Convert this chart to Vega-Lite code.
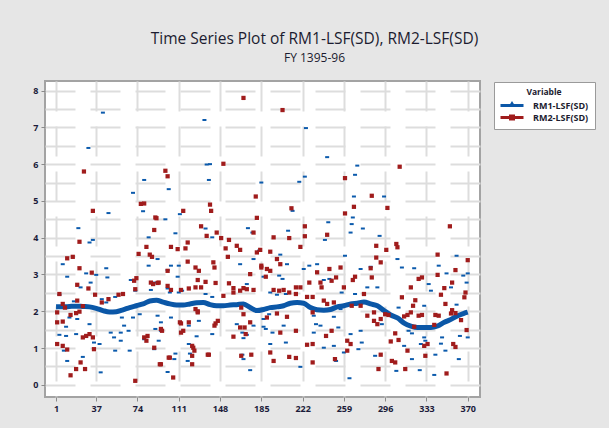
{
  "$schema": "https://vega.github.io/schema/vega-lite/v6.json",
  "autosize": {"type": "none"},
  "width": 435,
  "height": 316,
  "padding": {"left": 45, "top": 81, "right": 129, "bottom": 31},
  "background": "#e6e6e6",
  "title": {
    "text": "Time Series Plot of RM1-LSF(SD), RM2-LSF(SD)",
    "subtitle": "FY 1395-96",
    "anchor": "middle",
    "dx": 52,
    "offset": 17,
    "font": "Open Sans",
    "fontSize": 15.5,
    "fontWeight": "normal",
    "color": "#1c1c30",
    "subtitleFont": "Open Sans",
    "subtitleFontSize": 12,
    "subtitleColor": "#1c1c30",
    "subtitlePadding": 6
  },
  "config": {
    "view": {"fill": "white", "stroke": "#a3a3a3", "strokeWidth": 2},
    "axis": {
      "grid": true,
      "gridColor": "#dddddd",
      "gridWidth": 2,
      "gridDash": [30, 15],
      "domain": false,
      "tickColor": "#8a8a8a",
      "tickSize": 4,
      "labelFont": "Open Sans",
      "labelFontSize": 9,
      "labelFontWeight": "bold",
      "labelColor": "#1c1c3a",
      "labelPadding": 3,
      "title": null
    },
    "legend": {
      "orient": "none",
      "legendX": 449,
      "legendY": 1,
      "fillColor": "white",
      "strokeColor": "#9a9a9a",
      "padding": 6,
      "titleFont": "Open Sans",
      "titleFontSize": 8.5,
      "titleFontWeight": "bold",
      "titleColor": "#1c1c30",
      "titleAnchor": "middle",
      "titlePadding": 4,
      "labelFont": "Open Sans",
      "labelFontSize": 9,
      "labelFontWeight": "bold",
      "labelColor": "#1c1c30",
      "symbolSize": 100,
      "symbolOffset": 7,
      "symbolOpacity": 1,
      "labelOffset": 16,
      "rowPadding": 2,
      "symbolStrokeWidth": 0
    }
  },
  "datasets": {
    "legend": [{"s": "RM1-LSF(SD)"}, {"s": "RM2-LSF(SD)"}],
    "rm1line": [
      {"t": 1, "v": 2.12}, {"t": 7, "v": 2.12}, {"t": 13, "v": 2.13}, {"t": 19, "v": 2.14}, {"t": 25, "v": 2.13},
      {"t": 31, "v": 2.12}, {"t": 37, "v": 2.08}, {"t": 43, "v": 2.02}, {"t": 49, "v": 1.98}, {"t": 55, "v": 1.99},
      {"t": 61, "v": 2.04}, {"t": 67, "v": 2.1}, {"t": 73, "v": 2.15}, {"t": 79, "v": 2.2}, {"t": 85, "v": 2.28},
      {"t": 91, "v": 2.3}, {"t": 97, "v": 2.25}, {"t": 103, "v": 2.2}, {"t": 109, "v": 2.17}, {"t": 115, "v": 2.17},
      {"t": 121, "v": 2.2}, {"t": 127, "v": 2.23}, {"t": 133, "v": 2.24}, {"t": 139, "v": 2.18}, {"t": 145, "v": 2.15},
      {"t": 151, "v": 2.15}, {"t": 157, "v": 2.17}, {"t": 163, "v": 2.18}, {"t": 169, "v": 2.2}, {"t": 175, "v": 2.1},
      {"t": 181, "v": 2.02}, {"t": 187, "v": 2.05}, {"t": 193, "v": 2.1}, {"t": 199, "v": 2.12}, {"t": 205, "v": 2.15},
      {"t": 211, "v": 2.22}, {"t": 217, "v": 2.24}, {"t": 223, "v": 2.22}, {"t": 229, "v": 2.1}, {"t": 235, "v": 2.04},
      {"t": 241, "v": 2.03}, {"t": 247, "v": 2.05}, {"t": 253, "v": 2.12}, {"t": 259, "v": 2.15}, {"t": 265, "v": 2.2},
      {"t": 271, "v": 2.22}, {"t": 277, "v": 2.25}, {"t": 283, "v": 2.2}, {"t": 289, "v": 2.15}, {"t": 295, "v": 2.02},
      {"t": 301, "v": 1.9}, {"t": 307, "v": 1.82}, {"t": 313, "v": 1.68}, {"t": 319, "v": 1.6}, {"t": 325, "v": 1.56},
      {"t": 331, "v": 1.56}, {"t": 337, "v": 1.56}, {"t": 343, "v": 1.6}, {"t": 349, "v": 1.7}, {"t": 355, "v": 1.78},
      {"t": 361, "v": 1.88}, {"t": 367, "v": 1.95}, {"t": 370, "v": 1.98}
    ],
    "rm1": [
      {"t": 43, "v": 7.4}, {"t": 30, "v": 6.44}, {"t": 134, "v": 7.2}, {"t": 80, "v": 5.57}, {"t": 70, "v": 5.22},
      {"t": 102, "v": 5.32}, {"t": 48, "v": 4.67}, {"t": 79, "v": 4.72}, {"t": 99, "v": 4.5}, {"t": 112, "v": 4.64},
      {"t": 136, "v": 5.99}, {"t": 139, "v": 6.0}, {"t": 138, "v": 5.57}, {"t": 185, "v": 5.5}, {"t": 21, "v": 4.26},
      {"t": 108, "v": 4.12}, {"t": 135, "v": 4.25}, {"t": 141, "v": 4.01}, {"t": 173, "v": 4.26}, {"t": 84, "v": 4.01},
      {"t": 34, "v": 3.94}, {"t": 31, "v": 3.87}, {"t": 7, "v": 3.28}, {"t": 84, "v": 3.24}, {"t": 46, "v": 3.17},
      {"t": 11, "v": 2.94}, {"t": 28, "v": 3.03}, {"t": 37, "v": 2.99}, {"t": 47, "v": 2.92}, {"t": 68, "v": 2.85},
      {"t": 23, "v": 2.65}, {"t": 32, "v": 2.78}, {"t": 86, "v": 2.58}, {"t": 4, "v": 2.45}, {"t": 72, "v": 2.56},
      {"t": 42, "v": 2.33}, {"t": 46, "v": 2.24}, {"t": 54, "v": 2.39}, {"t": 17, "v": 2.27}, {"t": 76, "v": 2.2},
      {"t": 76, "v": 1.92}, {"t": 13, "v": 1.83}, {"t": 20, "v": 1.79}, {"t": 10, "v": 1.58}, {"t": 31, "v": 1.65},
      {"t": 60, "v": 1.83}, {"t": 62, "v": 1.61}, {"t": 70, "v": 1.83}, {"t": 50, "v": 1.42}, {"t": 59, "v": 1.42},
      {"t": 66, "v": 1.47}, {"t": 4, "v": 1.36}, {"t": 10, "v": 1.33}, {"t": 19, "v": 1.38}, {"t": 35, "v": 1.15},
      {"t": 40, "v": 1.11}, {"t": 53, "v": 1.29}, {"t": 59, "v": 1.2}, {"t": 8, "v": 0.93}, {"t": 54, "v": 0.93},
      {"t": 67, "v": 0.93}, {"t": 11, "v": 0.65}, {"t": 25, "v": 0.76}, {"t": 41, "v": 0.34}, {"t": 80, "v": 1.24},
      {"t": 225, "v": 6.98}, {"t": 244, "v": 6.19}, {"t": 271, "v": 5.96}, {"t": 269, "v": 5.71}, {"t": 224, "v": 5.66},
      {"t": 219, "v": 5.52}, {"t": 268, "v": 5.12}, {"t": 295, "v": 5.12}, {"t": 213, "v": 4.73}, {"t": 267, "v": 4.55},
      {"t": 245, "v": 4.42}, {"t": 266, "v": 4.37}, {"t": 276, "v": 4.25}, {"t": 209, "v": 4.19}, {"t": 265, "v": 4.14},
      {"t": 291, "v": 4.05}, {"t": 177, "v": 4.14}, {"t": 183, "v": 3.65}, {"t": 178, "v": 3.42}, {"t": 92, "v": 3.42},
      {"t": 104, "v": 3.24}, {"t": 101, "v": 3.12}, {"t": 111, "v": 3.24}, {"t": 166, "v": 3.28}, {"t": 187, "v": 2.94},
      {"t": 110, "v": 2.94}, {"t": 89, "v": 2.78}, {"t": 101, "v": 2.62}, {"t": 103, "v": 2.51}, {"t": 111, "v": 2.51},
      {"t": 114, "v": 2.56}, {"t": 135, "v": 2.47}, {"t": 141, "v": 2.39}, {"t": 172, "v": 2.74}, {"t": 92, "v": 1.88},
      {"t": 104, "v": 1.83}, {"t": 95, "v": 1.7}, {"t": 120, "v": 1.61}, {"t": 129, "v": 1.74}, {"t": 90, "v": 1.52},
      {"t": 95, "v": 1.47}, {"t": 141, "v": 1.38}, {"t": 163, "v": 1.65}, {"t": 178, "v": 1.61}, {"t": 187, "v": 1.58},
      {"t": 168, "v": 1.42}, {"t": 172, "v": 1.36}, {"t": 169, "v": 1.27}, {"t": 127, "v": 1.32}, {"t": 93, "v": 1.2},
      {"t": 89, "v": 0.97}, {"t": 120, "v": 1.11}, {"t": 121, "v": 0.85}, {"t": 108, "v": 0.85}, {"t": 107, "v": 0.7},
      {"t": 168, "v": 0.82}, {"t": 169, "v": 0.7}, {"t": 119, "v": 0.65}, {"t": 101, "v": 0.35}, {"t": 175, "v": 0.4},
      {"t": 242, "v": 3.94}, {"t": 260, "v": 3.51}, {"t": 202, "v": 3.54}, {"t": 208, "v": 3.28}, {"t": 228, "v": 3.24},
      {"t": 235, "v": 3.28}, {"t": 223, "v": 3.15}, {"t": 274, "v": 3.15}, {"t": 283, "v": 3.21}, {"t": 201, "v": 2.97},
      {"t": 204, "v": 2.88}, {"t": 241, "v": 2.85}, {"t": 246, "v": 2.88}, {"t": 257, "v": 2.51}, {"t": 280, "v": 2.65},
      {"t": 193, "v": 2.51}, {"t": 199, "v": 2.45}, {"t": 207, "v": 2.47}, {"t": 269, "v": 2.47}, {"t": 192, "v": 1.92},
      {"t": 187, "v": 1.79}, {"t": 189, "v": 1.52}, {"t": 195, "v": 1.42}, {"t": 193, "v": 1.11}, {"t": 205, "v": 1.61},
      {"t": 207, "v": 1.15}, {"t": 232, "v": 1.88}, {"t": 232, "v": 1.42}, {"t": 234, "v": 1.65}, {"t": 238, "v": 1.61},
      {"t": 250, "v": 1.85}, {"t": 254, "v": 1.56}, {"t": 241, "v": 1.01}, {"t": 250, "v": 1.06}, {"t": 252, "v": 0.65},
      {"t": 259, "v": 0.88}, {"t": 265, "v": 1.38}, {"t": 274, "v": 1.47}, {"t": 272, "v": 0.97}, {"t": 275, "v": 1.15},
      {"t": 220, "v": 0.49}, {"t": 264, "v": 0.18}, {"t": 256, "v": 2.06}, {"t": 307, "v": 3.42}, {"t": 360, "v": 3.51},
      {"t": 311, "v": 3.19}, {"t": 322, "v": 3.17}, {"t": 344, "v": 3.24}, {"t": 351, "v": 3.03}, {"t": 366, "v": 2.97},
      {"t": 370, "v": 3.03}, {"t": 335, "v": 2.74}, {"t": 337, "v": 2.56}, {"t": 289, "v": 2.65}, {"t": 355, "v": 2.65},
      {"t": 369, "v": 2.78}, {"t": 308, "v": 2.1}, {"t": 331, "v": 2.15}, {"t": 360, "v": 2.18}, {"t": 317, "v": 1.47},
      {"t": 320, "v": 1.4}, {"t": 331, "v": 1.29}, {"t": 332, "v": 1.2}, {"t": 346, "v": 1.12}, {"t": 347, "v": 1.29},
      {"t": 363, "v": 1.33}, {"t": 370, "v": 1.29}, {"t": 313, "v": 1.06}, {"t": 320, "v": 0.7}, {"t": 328, "v": 1.11},
      {"t": 341, "v": 0.82}, {"t": 350, "v": 0.93}, {"t": 362, "v": 0.7}, {"t": 327, "v": 0.4}, {"t": 340, "v": 0.27},
      {"t": 306, "v": 0.38}, {"t": 287, "v": 0.79}, {"t": 293, "v": 1.65}
    ],
    "rm2": [
      {"t": 26, "v": 5.8}, {"t": 34, "v": 4.73}, {"t": 22, "v": 3.89}, {"t": 11, "v": 3.44}, {"t": 16, "v": 3.48},
      {"t": 22, "v": 3.17}, {"t": 33, "v": 3.05}, {"t": 20, "v": 2.72}, {"t": 30, "v": 2.62}, {"t": 4, "v": 2.47},
      {"t": 36, "v": 2.45}, {"t": 20, "v": 2.29}, {"t": 7, "v": 2.2}, {"t": 9, "v": 2.1}, {"t": 25, "v": 2.14},
      {"t": 2, "v": 1.97}, {"t": 14, "v": 1.9}, {"t": 19, "v": 1.95}, {"t": 22, "v": 1.99}, {"t": 2, "v": 1.7},
      {"t": 7, "v": 1.72}, {"t": 28, "v": 1.33}, {"t": 31, "v": 1.38}, {"t": 2, "v": 1.11}, {"t": 7, "v": 1.06},
      {"t": 11, "v": 0.96}, {"t": 35, "v": 0.97}, {"t": 23, "v": 0.61}, {"t": 19, "v": 0.43}, {"t": 27, "v": 0.43},
      {"t": 14, "v": 0.26}, {"t": 72, "v": 0.11}, {"t": 77, "v": 4.92}, {"t": 80, "v": 4.93}, {"t": 90, "v": 4.55},
      {"t": 89, "v": 4.21}, {"t": 82, "v": 3.75}, {"t": 75, "v": 3.56}, {"t": 85, "v": 3.54}, {"t": 87, "v": 3.48},
      {"t": 73, "v": 2.9}, {"t": 71, "v": 2.83}, {"t": 86, "v": 2.78}, {"t": 57, "v": 2.45}, {"t": 61, "v": 2.47},
      {"t": 83, "v": 1.33}, {"t": 80, "v": 1.29}, {"t": 89, "v": 1.01}, {"t": 42, "v": 2.24}, {"t": 48, "v": 2.33},
      {"t": 72, "v": 2.6}, {"t": 93, "v": 2.78}, {"t": 88, "v": 2.74}, {"t": 25, "v": 1.29}, {"t": 34, "v": 1.29},
      {"t": 82, "v": 1.2}, {"t": 96, "v": 1.47}, {"t": 103, "v": 0.74}, {"t": 94, "v": 0.56}, {"t": 112, "v": 1.7},
      {"t": 115, "v": 1.47}, {"t": 124, "v": 1.01}, {"t": 123, "v": 0.79}, {"t": 137, "v": 0.82}, {"t": 146, "v": 1.74},
      {"t": 128, "v": 2.0}, {"t": 166, "v": 1.56}, {"t": 170, "v": 1.56}, {"t": 175, "v": 1.7}, {"t": 167, "v": 0.79},
      {"t": 160, "v": 2.51}, {"t": 166, "v": 2.56}, {"t": 185, "v": 3.24}, {"t": 193, "v": 3.1},
      {"t": 169, "v": 7.8}, {"t": 99, "v": 5.82}, {"t": 101, "v": 5.67}, {"t": 151, "v": 6.01}, {"t": 115, "v": 4.73},
      {"t": 139, "v": 4.9}, {"t": 140, "v": 4.73}, {"t": 180, "v": 5.12}, {"t": 181, "v": 4.54}, {"t": 91, "v": 4.53},
      {"t": 131, "v": 4.31}, {"t": 136, "v": 4.05}, {"t": 145, "v": 4.14}, {"t": 149, "v": 3.99}, {"t": 156, "v": 3.94},
      {"t": 178, "v": 4.14}, {"t": 204, "v": 7.47}, {"t": 309, "v": 5.93}, {"t": 260, "v": 5.62}, {"t": 284, "v": 5.14},
      {"t": 212, "v": 4.8}, {"t": 268, "v": 4.84}, {"t": 298, "v": 4.81}, {"t": 260, "v": 4.66}, {"t": 224, "v": 4.31},
      {"t": 224, "v": 4.04}, {"t": 244, "v": 4.08}, {"t": 354, "v": 4.31}, {"t": 196, "v": 4.01}, {"t": 210, "v": 3.99},
      {"t": 163, "v": 3.78}, {"t": 119, "v": 3.87}, {"t": 104, "v": 3.75}, {"t": 110, "v": 3.69}, {"t": 117, "v": 3.71},
      {"t": 153, "v": 3.71}, {"t": 166, "v": 3.67}, {"t": 181, "v": 3.6}, {"t": 184, "v": 3.67}, {"t": 155, "v": 3.48},
      {"t": 119, "v": 3.35}, {"t": 126, "v": 3.19}, {"t": 129, "v": 3.1}, {"t": 142, "v": 3.33}, {"t": 143, "v": 3.19},
      {"t": 185, "v": 3.19}, {"t": 175, "v": 3.01}, {"t": 101, "v": 3.1}, {"t": 92, "v": 2.77}, {"t": 128, "v": 2.85},
      {"t": 135, "v": 2.8}, {"t": 144, "v": 2.77}, {"t": 156, "v": 2.76}, {"t": 160, "v": 2.63}, {"t": 101, "v": 2.69},
      {"t": 104, "v": 2.58}, {"t": 113, "v": 2.58}, {"t": 120, "v": 2.62}, {"t": 126, "v": 2.65}, {"t": 131, "v": 2.65},
      {"t": 151, "v": 2.42}, {"t": 169, "v": 2.63}, {"t": 172, "v": 2.6}, {"t": 178, "v": 2.58}, {"t": 126, "v": 2.06},
      {"t": 128, "v": 1.97}, {"t": 167, "v": 2.1}, {"t": 169, "v": 1.92}, {"t": 113, "v": 1.67}, {"t": 120, "v": 1.7},
      {"t": 95, "v": 1.52}, {"t": 113, "v": 1.42}, {"t": 144, "v": 1.67}, {"t": 143, "v": 1.61}, {"t": 160, "v": 1.31},
      {"t": 171, "v": 1.38}, {"t": 123, "v": 1.06}, {"t": 125, "v": 0.93}, {"t": 138, "v": 0.82}, {"t": 176, "v": 0.82},
      {"t": 102, "v": 0.74}, {"t": 95, "v": 0.56}, {"t": 123, "v": 0.56}, {"t": 106, "v": 0.2},
      {"t": 220, "v": 3.75}, {"t": 193, "v": 3.62}, {"t": 199, "v": 3.42}, {"t": 202, "v": 3.28}, {"t": 288, "v": 3.46},
      {"t": 190, "v": 3.15}, {"t": 235, "v": 3.06}, {"t": 246, "v": 3.15}, {"t": 256, "v": 3.19}, {"t": 283, "v": 3.17},
      {"t": 284, "v": 2.92}, {"t": 189, "v": 2.94}, {"t": 216, "v": 2.65}, {"t": 220, "v": 2.65}, {"t": 228, "v": 2.78},
      {"t": 238, "v": 2.78}, {"t": 239, "v": 2.65}, {"t": 248, "v": 2.83}, {"t": 252, "v": 2.92}, {"t": 267, "v": 2.85},
      {"t": 269, "v": 2.94}, {"t": 196, "v": 2.58}, {"t": 201, "v": 2.56}, {"t": 205, "v": 2.58}, {"t": 210, "v": 2.51},
      {"t": 216, "v": 2.47}, {"t": 226, "v": 2.39}, {"t": 231, "v": 2.39}, {"t": 241, "v": 2.29}, {"t": 244, "v": 2.2},
      {"t": 250, "v": 2.24}, {"t": 259, "v": 2.65}, {"t": 266, "v": 2.15}, {"t": 274, "v": 2.15}, {"t": 277, "v": 2.47},
      {"t": 190, "v": 1.83}, {"t": 199, "v": 1.94}, {"t": 208, "v": 1.85}, {"t": 231, "v": 1.97}, {"t": 280, "v": 1.88},
      {"t": 286, "v": 1.97}, {"t": 286, "v": 1.74}, {"t": 202, "v": 1.42}, {"t": 216, "v": 1.47}, {"t": 243, "v": 1.33},
      {"t": 248, "v": 1.47}, {"t": 262, "v": 1.2}, {"t": 265, "v": 1.11}, {"t": 226, "v": 1.09}, {"t": 231, "v": 1.11},
      {"t": 262, "v": 0.93}, {"t": 193, "v": 0.88}, {"t": 210, "v": 0.76}, {"t": 216, "v": 0.73}, {"t": 196, "v": 0.65},
      {"t": 231, "v": 0.61}, {"t": 251, "v": 0.7},
      {"t": 306, "v": 3.83}, {"t": 307, "v": 3.74}, {"t": 288, "v": 3.78}, {"t": 297, "v": 3.67}, {"t": 343, "v": 3.54},
      {"t": 370, "v": 3.39}, {"t": 292, "v": 3.33}, {"t": 359, "v": 3.12}, {"t": 343, "v": 2.99}, {"t": 326, "v": 2.88},
      {"t": 329, "v": 2.92}, {"t": 356, "v": 2.78}, {"t": 349, "v": 2.63}, {"t": 319, "v": 2.65}, {"t": 368, "v": 2.51},
      {"t": 367, "v": 2.38}, {"t": 346, "v": 2.45}, {"t": 311, "v": 2.38}, {"t": 323, "v": 2.3}, {"t": 321, "v": 2.15},
      {"t": 350, "v": 2.2}, {"t": 356, "v": 2.03}, {"t": 296, "v": 1.92}, {"t": 299, "v": 1.9}, {"t": 313, "v": 1.86},
      {"t": 316, "v": 1.9}, {"t": 319, "v": 1.97}, {"t": 326, "v": 1.88}, {"t": 329, "v": 1.9}, {"t": 341, "v": 1.9},
      {"t": 344, "v": 1.88}, {"t": 355, "v": 1.94}, {"t": 359, "v": 1.95}, {"t": 364, "v": 1.76}, {"t": 289, "v": 1.65},
      {"t": 292, "v": 1.79}, {"t": 340, "v": 1.63}, {"t": 369, "v": 1.49}, {"t": 322, "v": 1.58}, {"t": 305, "v": 1.4},
      {"t": 301, "v": 1.18}, {"t": 308, "v": 1.22}, {"t": 331, "v": 1.06}, {"t": 334, "v": 1.11}, {"t": 359, "v": 1.03},
      {"t": 357, "v": 1.11}, {"t": 316, "v": 0.93}, {"t": 292, "v": 0.82}, {"t": 302, "v": 0.65}, {"t": 305, "v": 0.61},
      {"t": 332, "v": 0.79}, {"t": 351, "v": 0.31}, {"t": 290, "v": 0.43}, {"t": 314, "v": 0.43}
    ]
  },
  "encoding": {
    "x": {
      "field": "t",
      "type": "quantitative",
      "scale": {"domain": [-8.9, 381], "nice": false, "zero": false},
      "axis": {"values": [1, 37, 74, 111, 148, 185, 222, 259, 296, 333, 370]}
    },
    "y": {
      "field": "v",
      "type": "quantitative",
      "scale": {"domain": [-0.33, 8.26], "nice": false, "zero": false},
      "axis": {
        "values": [0, 0.5, 1, 1.5, 2, 2.5, 3, 3.5, 4, 4.5, 5, 5.5, 6, 6.5, 7, 7.5, 8],
        "labelExpr": "datum.value % 1 === 0 ? format(datum.value, 'd') : ''",
        "tickOpacity": {"condition": {"test": "datum.value % 1 === 0", "value": 1}, "value": 0}
      }
    }
  },
  "layer": [
    {
      "data": {"name": "rm1"},
      "mark": {"type": "point", "shape": "M-1,-0.5H1V0.5H-1Z", "filled": true, "size": 16, "opacity": 1, "color": "#0b5aac"}
    },
    {
      "data": {"name": "rm1line"},
      "mark": {"type": "line", "color": "#0b57a7", "strokeWidth": 5, "interpolate": "monotone"},
      "encoding": {}
    },
    {
      "data": {"name": "rm2"},
      "mark": {"type": "point", "shape": "square", "filled": true, "size": 18, "opacity": 1, "color": "#a01c1c"}
    },
    {
      "data": {"name": "legend"},
      "mark": {"type": "point", "filled": true, "opacity": 0},
      "encoding": {
        "x": {"datum": -100},
        "y": {"datum": -100},
        "color": {
          "field": "s",
          "type": "nominal",
          "title": "Variable",
          "scale": {"domain": ["RM1-LSF(SD)", "RM2-LSF(SD)"], "range": ["#0b57a7", "#a01c1c"]}
        },
        "shape": {
          "field": "s",
          "type": "nominal",
          "title": "Variable",
          "scale": {
            "domain": ["RM1-LSF(SD)", "RM2-LSF(SD)"],
            "range": ["M-2.3,-0.28H2.3V0.28H-2.3Z M-0.75,0.28L0,-0.9L0.75,0.28Z", "M-2.3,-0.28H2.3V0.28H-2.3Z M-0.6,-0.6H0.6V0.6H-0.6Z"]
          }
        }
      }
    }
  ]
}
